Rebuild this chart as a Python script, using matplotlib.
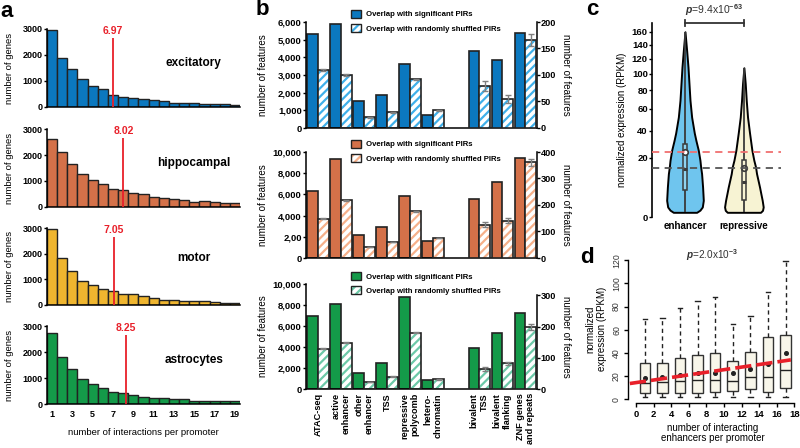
import numpy as np
import matplotlib
matplotlib.use('Agg')
import matplotlib.pyplot as plt
from matplotlib.patches import Patch
import matplotlib.transforms as mtransforms

plt.rcParams['font.family'] = ['Liberation Sans', 'DejaVu Sans']
plt.rcParams['font.weight'] = 'bold'
plt.rcParams['hatch.linewidth'] = 1.6
plt.rcParams['mathtext.fontset'] = 'custom'
plt.rcParams['mathtext.rm'] = 'Liberation Sans'
plt.rcParams['mathtext.it'] = 'Liberation Sans:italic'

W, H = 800, 448
DARK = '#222222'

# ---------------- panel a: interactions per promoter
n_inter = list(range(1, 20))
excitatory = [2950, 1900, 1450, 1060, 820, 690, 475, 400, 360, 310, 280, 230, 155, 155, 155, 130, 115, 100, 80]
hippocampal = [2630, 2120, 1640, 1280, 1040, 890, 710, 635, 545, 485, 370, 345, 320, 270, 190, 230, 205, 170, 165]
motor = [2980, 1830, 1310, 935, 770, 630, 550, 425, 410, 370, 280, 205, 190, 155, 155, 140, 115, 90, 90]
astrocytes = [2750, 1790, 1350, 950, 760, 620, 465, 410, 345, 270, 235, 235, 180, 180, 115, 105, 105, 105, 100]
cell_types = ['excitatory', 'hippocampal', 'motor', 'astrocytes']
mean_inter = [6.97, 8.02, 7.05, 8.25]

# ---------------- panel b: feature overlap
feat_left = ['ATAC-seq', 'active\nenhancer', 'other\nenhancer', 'TSS',
             'repressive\npolycomb', 'hetero-\nchromatin']
feat_right = ['bivalent\nTSS', 'bivalent\nflanking', 'ZNF genes\nand repeats']
pos_left = [0, 1, 2, 3, 4, 5]
pos_right = [7, 8, 9]

ex_sig_left = [5330, 5880, 1520, 1880, 3620, 760]
ex_shuf_left = [3290, 3000, 610, 900, 2750, 1000]
ex_shuf_left_err = [40, 40, 30, 30, 50, 30]
ex_sig_right = [145, 129, 180]
ex_shuf_right = [79, 55, 166]
ex_shuf_right_err = [10, 7, 12]

hc_sig_left = [6280, 9370, 2210, 2900, 5870, 1640]
hc_shuf_left = [3690, 5430, 1040, 1510, 4420, 1890]
hc_shuf_left_err = [40, 60, 30, 30, 60, 30]
hc_sig_right = [223, 286, 376]
hc_shuf_right = [125, 141, 362]
hc_shuf_right_err = [9, 10, 13]

as_sig_left = [6940, 8060, 1500, 2450, 8760, 890]
as_shuf_left = [3820, 4400, 670, 1180, 5380, 920]
as_shuf_left_err = [50, 50, 40, 40, 60, 30]
as_sig_right = [130, 180, 243]
as_shuf_right = [65, 82, 198]
as_shuf_right_err = [7, 6, 9]

# ---------------- panel c: violin profiles (RPKM level, half width)
enh_level = [0.2, 0.4, 0.8, 2.0, 3.7, 5.8, 11.4, 14.8, 18.6, 25, 32, 38, 52, 69, 88, 109, 132, 160]
enh_half = [0.198, 0.254, 0.294, 0.311, 0.305, 0.299, 0.282, 0.266, 0.254, 0.226, 0.186,
            0.158, 0.113, 0.085, 0.068, 0.051, 0.028, 0.0]
rep_level = [0.2, 0.38, 0.8, 2.0, 3.7, 5.8, 11.4, 14.8, 18.6, 25, 38, 52, 69, 88, 108]
rep_half = [0.282, 0.316, 0.328, 0.311, 0.288, 0.266, 0.215, 0.198, 0.169, 0.136, 0.096,
            0.062, 0.040, 0.023, 0.0]
vio_groups = ['enhancer', 'repressive']
vio_q1 = [4.96, 2.0]
vio_med = [13.9, 7.7]
vio_q3 = [29.2, 19.0]
vio_mean = [23.9, 14.4]
vio_lo = [0.2, 0.2]
vio_hi = [160, 108]

# ---------------- panel d: expression vs interacting enhancers
enh_bins = [1, 3, 5, 7, 9, 11, 13, 15, 17]
d_q1 = [5.2, 5.7, 5.2, 5.7, 6.0, 7.5, 8.9, 6.0, 9.5]
d_med = [13.8, 15.2, 16.1, 16.6, 16.6, 15.5, 18.9, 19.5, 25.3]
d_q3 = [31.0, 31.6, 35.6, 38.2, 39.9, 33.3, 40.5, 53.4, 55.4]
d_mean = [18.7, 19.5, 20.7, 22.4, 22.7, 22.4, 25.8, 30.1, 39.6]
d_whislo = [2.0, 2.0, 2.0, 2.0, 2.0, 2.0, 2.0, 2.0, 2.0]
d_whishi = [68.9, 69.8, 79.0, 84.7, 88.4, 64.9, 72.1, 92.2, 119.4]
fit_x = [-0.7, 17.6]
fit_y = [13.6, 34.0]

fig = plt.figure(figsize=(8, 4.48), dpi=100)


def px_axes(l, t, r, b):
    return fig.add_axes([l / W, 1 - b / H, (r - l) / W, (b - t) / H])


def letter(x, y, s):
    fig.text(x / W, 1 - y / H, s, fontsize=16, fontweight='bold', va='baseline', ha='left')


# ================= panel a
a_rows = [(29, 107), (129, 207), (228, 305), (326, 404)]
a_vals = [excitatory, hippocampal, motor, astrocytes]
a_cols = ['#0b78bf', '#d47149', '#efb52f', '#149a49']
a_text_y = [0.57, 0.57, 0.61, 0.57]
for i in range(4):
    t, b = a_rows[i]
    ax = px_axes(47, t, 240, b)
    ax.bar(n_inter, a_vals[i], width=1.0, color=a_cols[i], edgecolor=DARK, linewidth=1.0)
    ax.set_xlim(0.5, 19.5)
    ax.set_ylim(0, 3000)
    ax.set_yticks([0, 1000, 2000, 3000])
    ax.tick_params(axis='y', labelsize=6.5, length=2, width=1, pad=1)
    m = mean_inter[i]
    ax.vlines(m, 0, 2650, color='#e8202a', lw=1.3, zorder=5)
    ax.text(m, 2720, f'{m:.2f}', color='#e8202a', ha='center', va='bottom', fontsize=7.5)
    ax.text(0.76, a_text_y[i], cell_types[i], transform=ax.transAxes, ha='center',
            va='center', fontsize=8.5)
    ax.set_ylabel('number of genes', fontsize=6.8)
    ax.yaxis.set_label_coords(-0.17, 0.5)
    for s in ['top', 'right']:
        ax.spines[s].set_visible(False)
    for s in ['left', 'bottom']:
        ax.spines[s].set_linewidth(1.1)
    if i == 3:
        ax.set_xticks(n_inter[::2])
        ax.tick_params(axis='x', labelsize=6.5, length=0, pad=4)
        ax.set_xlabel('number of interactions per promoter', fontsize=6.8, labelpad=7)
    else:
        ax.set_xticks([])
letter(0, 17, 'a')

# ================= panel b
b_rows = [(22, 128), (152, 258), (284, 389)]
b_data = [
    (ex_sig_left, ex_shuf_left, ex_shuf_left_err, ex_sig_right, ex_shuf_right, ex_shuf_right_err),
    (hc_sig_left, hc_shuf_left, hc_shuf_left_err, hc_sig_right, hc_shuf_right, hc_shuf_right_err),
    (as_sig_left, as_shuf_left, as_shuf_left_err, as_sig_right, as_shuf_right, as_shuf_right_err),
]
b_cols = ['#0b78bf', '#d47149', '#149a49']
b_hatch = ['#3fb0ea', '#f6b08a', '#6cc9a8']
b_lmax = [6000, 10000, 10000]
b_lticks = [[0, 1000, 2000, 3000, 4000, 5000, 6000],
            [0, 2000, 4000, 6000, 8000, 10000],
            [0, 2000, 4000, 6000, 8000, 10000]]
b_llabels = [['0', '1,000', '2,000', '3,000', '4,000', '5,000', '6,000'],
             ['0', '2,00', '4,000', '6,000', '8,000', '10,000'],
             ['0', '2,000', '4,000', '6,000', '8,000', '10,000']]
b_rmax = [200, 400, 336]
b_rticks = [[0, 50, 100, 150, 200], [0, 100, 200, 300, 400], [0, 100, 200, 300]]
bw = 0.47


def pair_bars(ax, pos, sig, shuf, err, col, hcol):
    x = np.array(pos, dtype=float)
    ax.bar(x - bw / 2, sig, bw, color=col, edgecolor=DARK, linewidth=1.2, zorder=2)
    ax.bar(x + bw / 2, shuf, bw, color='white', hatch='////', edgecolor=hcol, linewidth=0, zorder=2)
    ax.bar(x + bw / 2, shuf, bw, fill=False, edgecolor=DARK, linewidth=1.2, zorder=3)
    ax.errorbar(x + bw / 2, shuf, yerr=err, fmt='none', ecolor='#808080', elinewidth=1.0,
                capsize=2, capthick=1.0, zorder=4)


for i in range(3):
    t, b = b_rows[i]
    sl, shl, el, sr, shr, er = b_data[i]
    ax = px_axes(306, t, 537, b)
    axr = ax.twinx()
    pair_bars(ax, pos_left, sl, shl, el, b_cols[i], b_hatch[i])
    pair_bars(axr, pos_right, sr, shr, er, b_cols[i], b_hatch[i])
    ax.set_xlim(-0.52, 9.5)
    ax.set_ylim(0, b_lmax[i])
    axr.set_ylim(0, b_rmax[i])
    ax.set_yticks(b_lticks[i])
    ax.set_yticklabels(b_llabels[i])
    axr.set_yticks(b_rticks[i])
    ax.tick_params(axis='y', labelsize=6.8, length=2, width=1, pad=1)
    axr.tick_params(axis='y', labelsize=6.6, length=2, width=1, pad=0.5)
    for s in ['top', 'right']:
        ax.spines[s].set_visible(False)
    for s in ['top', 'left', 'bottom']:
        axr.spines[s].set_visible(False)
    for s in ['left', 'bottom']:
        ax.spines[s].set_linewidth(1.1)
    axr.spines['right'].set_linewidth(1.1)
    axr.spines['right'].set_bounds(0, b_rticks[i][-1])
    ax.set_ylabel('number of features', fontsize=7)
    ax.yaxis.set_label_coords(-0.165, 0.5)
    axr.set_ylabel('number of features', fontsize=7, rotation=270, va='bottom')
    axr.yaxis.set_label_coords(1.105, 0.5)
    if i == 2:
        ax.set_xticks(pos_left + pos_right)
        ax.set_xticklabels(feat_left + feat_right, rotation=90, fontsize=6.6,
                           ha='center', va='top', multialignment='right')
        ax.tick_params(axis='x', length=0, pad=3)
    else:
        ax.set_xticks([])
    handles = [Patch(facecolor=b_cols[i], edgecolor=DARK, lw=1),
               (Patch(facecolor='white', hatch='////', edgecolor=b_hatch[i], lw=0),
                Patch(fill=False, edgecolor=DARK, lw=1))]
    axr.legend(handles, ['Overlap with significant PIRs', 'Overlap with randomly shuffled PIRs'],
               loc='upper left', bbox_to_anchor=(0.195, 1.115), frameon=False,
               prop=dict(size=5.6, weight='bold'), handlelength=1.3, handleheight=1.2,
               labelspacing=0.75, handletextpad=0.6, borderaxespad=0, borderpad=0)
letter(256, 15, 'b')

# ================= panel c
fwd = lambda v: np.power(np.clip(v, 0, None), 0.55)
inv = lambda t: np.power(np.clip(t, 0, None), 1 / 0.55)
axc = px_axes(652, 23, 781, 217)
axc.set_yscale('function', functions=(fwd, inv))
vio_cols = ['#6fc5ee', '#f7f3d3']
box_cols = ['#8fd3f0', '#f7f3d3']
profiles = [(enh_level, enh_half), (rep_level, rep_half)]
for k in range(2):
    lev, half = np.array(profiles[k][0]), np.array(profiles[k][1])
    axc.fill_betweenx(lev, k - half, k + half, facecolor=vio_cols[k], edgecolor='black',
                      lw=1.4, zorder=2)
    axc.vlines(k, vio_lo[k], vio_hi[k], color='#3a3a3a', lw=1.3, zorder=3)
    axc.bar(k, vio_q3[k] - vio_q1[k], bottom=vio_q1[k], width=0.075, color=box_cols[k],
            edgecolor='#3a3a3a', lw=1.1, zorder=4)
    axc.hlines(vio_med[k], k - 0.0375, k + 0.0375, color='#3a3a3a', lw=2.2, zorder=5)
    axc.plot(k, vio_mean[k], 'o', ms=4, mfc='white' if k == 0 else 'none', mec='#3a3a3a',
             mew=1.2, zorder=6)
axc.axhline(vio_mean[0], color='#f07070', lw=1.3, dashes=(4, 3), zorder=7)
axc.axhline(vio_mean[1], color='#555555', lw=1.3, dashes=(4, 3), zorder=7)
axc.set_xlim(-0.56, 1.63)
axc.set_ylim(0, 174)
axc.set_yticks([0, 20, 40, 60, 80, 100, 120, 140, 160])
axc.set_xticks([0, 1])
axc.set_xticklabels(vio_groups)
axc.tick_params(axis='y', labelsize=6.8, length=2, width=1, pad=1)
axc.tick_params(axis='x', labelsize=7, length=0, pad=3)
for s in ['top', 'right', 'bottom']:
    axc.spines[s].set_visible(False)
axc.spines['left'].set_linewidth(1.2)
axc.set_ylabel('normalized expression (RPKM)', fontsize=7)
axc.yaxis.set_label_coords(-0.19, 0.5)
tr = mtransforms.blended_transform_factory(axc.transData, axc.transAxes)
axc.plot([0, 1], [1.0, 1.0], color='#333333', lw=1.3, transform=tr, clip_on=False)
axc.plot([0, 0], [0.983, 1.017], color='#333333', lw=1.3, transform=tr, clip_on=False)
axc.plot([1, 1], [0.983, 1.017], color='#333333', lw=1.3, transform=tr, clip_on=False)
axc.text(0.5, 1.025, r'$p$=9.4x10$^{-63}$', transform=tr, ha='center', va='bottom',
         fontsize=7.5, fontweight='normal', color='#333333')
letter(586, 15, 'c')

# ================= panel d
axd = px_axes(628, 255.5, 797, 403)
stats = []
for j in range(len(enh_bins)):
    stats.append(dict(med=d_med[j], q1=d_q1[j], q3=d_q3[j], whislo=d_whislo[j],
                      whishi=d_whishi[j], mean=d_mean[j]))
axd.bxp(stats, positions=enh_bins, widths=1.2, showmeans=True, showfliers=False,
        patch_artist=True, manage_ticks=False, capwidths=0.5,
        boxprops=dict(facecolor='#f8f6ea', edgecolor='#333333', lw=1.0),
        whiskerprops=dict(color='#222222', lw=1.0, linestyle=(0, (3, 2.5))),
        capprops=dict(color='#222222', lw=1.0),
        medianprops=dict(color='#222222', lw=1.0),
        meanprops=dict(marker='o', ms=2.6, mfc='#222222', mec='#222222'))
axd.plot(fit_x, fit_y, color='#e8202a', lw=2.6, dashes=(4.5, 1.4), zorder=6)
axd.set_xlim(-0.91, 18.3)
axd.set_ylim(-3.2, 124)
axd.set_xticks(range(0, 19, 2))
axd.set_yticks(range(0, 121, 20))
axd.tick_params(axis='x', labelsize=6.8, length=3, width=1, pad=2)
axd.tick_params(axis='y', labelsize=6.3, length=3, width=1, pad=2, labelcolor='#333333')
for lab in axd.get_yticklabels():
    lab.set_rotation(90)
    lab.set_va('center')
    lab.set_fontweight('normal')
for s in ['top', 'right']:
    axd.spines[s].set_visible(False)
axd.spines['left'].set_bounds(0, 120)
axd.spines['bottom'].set_bounds(0, 18)
axd.spines['left'].set_linewidth(1.0)
axd.spines['bottom'].set_linewidth(1.0)
axd.set_ylabel('normalized\nexpression (RPKM)', fontsize=7)
axd.yaxis.set_label_coords(-0.125, 0.5)
axd.set_xlabel('number of interacting\nenhancers per promoter', fontsize=7, labelpad=3,
               linespacing=1.0)
axd.text(0.5, 1.0, r'$p$=2.0x10$^{-3}$', transform=axd.transAxes, ha='center', va='center',
         fontsize=7.2, fontweight='normal', color='#333333')
letter(580, 263, 'd')

fig.savefig('out.png', dpi=100)
